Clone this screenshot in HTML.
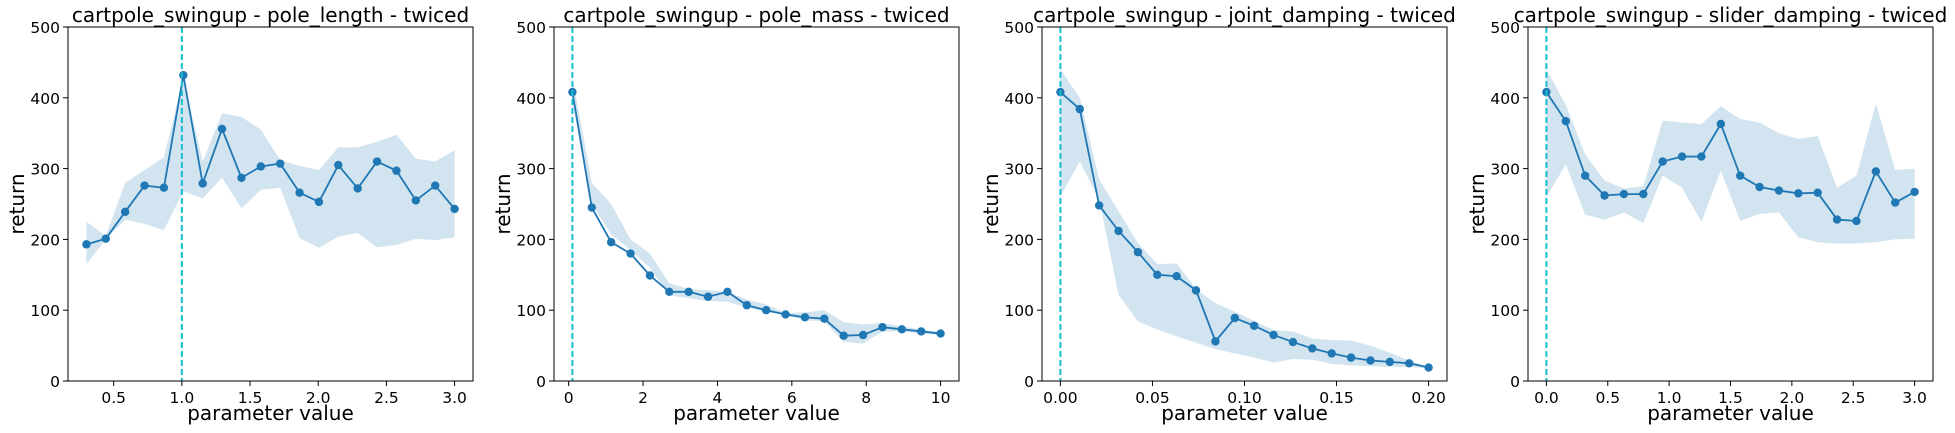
<!DOCTYPE html>
<html><head><meta charset="utf-8"><style>
html,body{margin:0;padding:0;background:#fff;}
svg{display:block;font-family:"DejaVu Sans","Liberation Sans",sans-serif;}
</style></head><body>
<svg id="fig" width="1955" height="433" viewBox="0 0 1955 433"></svg>
<script>
// ---- data ----
const titles = ["cartpole_swingup - pole_length - twiced","cartpole_swingup - pole_mass - twiced","cartpole_swingup - joint_damping - twiced","cartpole_swingup - slider_damping - twiced"];
const xStart = [0.3, 0.1, 0.0, 0.0];
const xEnd = [3.0, 10.0, 0.2, 3.0];
const defaultValue = [1.0, 0.1, 0.0, 0.0];
const xTicks1 = [0.5,1.0,1.5,2.0,2.5,3.0];
const xTicks2 = [0,2,4,6,8,10];
const xTicks3 = [0.00,0.05,0.10,0.15,0.20];
const xTicks4 = [0.0,0.5,1.0,1.5,2.0,2.5,3.0];
const xTickLabels1 = ["0.5","1.0","1.5","2.0","2.5","3.0"];
const xTickLabels2 = ["0","2","4","6","8","10"];
const xTickLabels3 = ["0.00","0.05","0.10","0.15","0.20"];
const xTickLabels4 = ["0.0","0.5","1.0","1.5","2.0","2.5","3.0"];
const yTicks = [0,100,200,300,400,500];
const mean1 = [193,201,239,276,273,432,279,356,287,303,307,266,253,305,272,310,297,255,276,243];
const upper1 = [225,205,280,298,316,428,310,378,373,355,312,304,298,330,330,338,348,314,310,326];
const lower1 = [165,200,228,222,213,268,258,287,244,270,273,202,188,204,209,189,192,201,199,203];
const mean2 = [408,245,196,180,149,126,126,119,126,107,100,94,90,88,64,65,76,73,70,67];
const upper2 = [430,280,250,200,180,138,130,128,126,115,108,96,97,100,83,80,82,77,73,69];
const lower2 = [395,250,207,185,160,121,117,113,112,104,98,93,86,84,55,53,70,70,67,65];
const mean3 = [408,384,248,212,182,150,148,128,56,89,78,65,55,46,39,33,29,27,25,19];
const upper3 = [440,400,285,240,195,165,166,130,110,98,85,72,70,60,58,57,50,40,29,20];
const lower3 = [261,310,256,122,84,73,63,54,45,39,33,26,31,30,24,22,21,20,20,18];
const mean4 = [408,367,290,262,264,264,310,317,317,363,290,274,269,265,266,228,226,296,252,267];
const upper4 = [440,390,320,283,272,275,368,365,363,388,370,365,350,342,346,273,290,392,298,300];
const lower4 = [260,306,235,228,238,223,290,273,225,297,226,236,238,203,196,194,194,196,200,201];

const means=[mean1,mean2,mean3,mean4], uppers=[upper1,upper2,upper3,upper4], lowers=[lower1,lower2,lower3,lower4];
const ticksX=[xTicks1,xTicks2,xTicks3,xTicks4], labelsX=[xTickLabels1,xTickLabels2,xTickLabels3,xTickLabels4];
const lefts=[68,554,1042,1528], W=405, axTop=27, axBottom=381;
const NS="http://www.w3.org/2000/svg";
const svg=document.getElementById('fig');
function mk(tag,attrs,parent){const e=document.createElementNS(NS,tag);for(const k in attrs)e.setAttribute(k,attrs[k]);(parent||svg).appendChild(e);return e;}

for(let p=0;p<4;p++){
  const g=mk('g',{});
  
  
  const L=lefts[p];
  const n=means[p].length, span=xEnd[p]-xStart[p], pad=span*0.05;
  const xmin=xStart[p]-pad, xmax=xEnd[p]+pad;
  const xs=v=>L+(v-xmin)/(xmax-xmin)*W;
  const ys=v=>axBottom-(v/500)*(axBottom-axTop);
  const xv=i=>xStart[p]+span*i/(n-1);
  let d='';
  for(let i=0;i<n;i++) d+=(i?'L':'M')+xs(xv(i)).toFixed(2)+','+ys(uppers[p][i]).toFixed(2);
  for(let i=n-1;i>=0;i--) d+='L'+xs(xv(i)).toFixed(2)+','+ys(lowers[p][i]).toFixed(2);
  const band=mk('path',{d:d+'Z',fill:'#1f77b4','fill-opacity':'0.2',stroke:'none'},g);
  
  
  let pts=[];
  for(let i=0;i<n;i++) pts.push(xs(xv(i)).toFixed(2)+','+ys(means[p][i]).toFixed(2));
  const line=mk('polyline',{points:pts.join(' '),fill:'none',stroke:'#1f77b4','stroke-width':'1.8'},g);
  
  
  for(let i=0;i<n;i++){
    const c=mk('circle',{cx:xs(xv(i)),cy:ys(means[p][i]),r:4.2,fill:'#1f77b4'},g);
    
    
  }
  const dl=mk('line',{x1:xs(defaultValue[p]),x2:xs(defaultValue[p]),y1:axTop,y2:axBottom,stroke:'#17becf','stroke-width':'2','stroke-dasharray':'6,3'},g);
  
  
  const fr=mk('rect',{x:L,y:axTop,width:W,height:axBottom-axTop,fill:'none',stroke:'#000','stroke-width':'1'},g);
  
  
  for(const t of yTicks){
    const y=ys(t);
    mk('line',{x1:L-5,x2:L,y1:y,y2:y,stroke:'#000'},g);
    const tx=mk('text',{x:L-8,y:y+6,'text-anchor':'end','font-size':'15.5',fill:'#000'},g);
    tx.textContent=t;
    
    
  }
  ticksX[p].forEach((t,i)=>{
    const x=xs(t);
    mk('line',{x1:x,x2:x,y1:axBottom,y2:axBottom+5,stroke:'#000'},g);
    const tx=mk('text',{x:x,y:axBottom+22,'text-anchor':'middle','font-size':'15.5',fill:'#000'},g);
    tx.textContent=labelsX[p][i];
    
    
  });
  const ti=mk('text',{x:L+W/2,y:22,'text-anchor':'middle','font-size':'20',fill:'#000'},g);
  ti.textContent=titles[p];
  
  
  const xl=mk('text',{x:L+W/2,y:420,'text-anchor':'middle','font-size':'20',fill:'#000'},g);
  xl.textContent='parameter value';
  
  
  const yl=mk('text',{x:0,y:0,'text-anchor':'middle','font-size':'20',fill:'#000',transform:`translate(${L-44},${(axTop+axBottom)/2}) rotate(-90)`},g);
  yl.textContent='return';
  
  
}
</script>
</body></html>
